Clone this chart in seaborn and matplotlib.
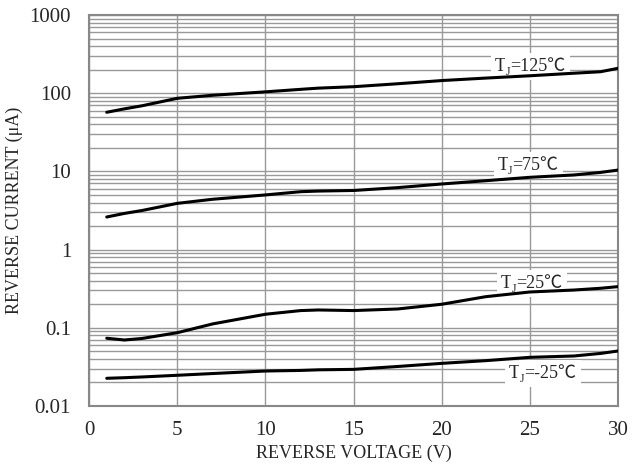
import numpy as np
import pandas as pd
import matplotlib
matplotlib.use('Agg')
import matplotlib.pyplot as plt
import matplotlib.transforms as mtransforms
import seaborn as sns

# Curvas de corriente inversa
voltaje = [1, 2, 3, 5, 7, 10, 12, 13, 15, 17.5, 20, 22.5, 25, 27.5, 29, 30]
i_125 = [57, 63, 69, 86, 94, 104, 112, 116, 121, 132, 145, 156, 167, 180, 188, 208]
i_75 = [2.61, 2.9, 3.16, 3.9, 4.4, 5.0, 5.5, 5.6, 5.7, 6.2, 6.9, 7.6, 8.4, 9.0, 9.7, 10.4]
i_25 = [0.0735, 0.0698, 0.073, 0.0865, 0.112, 0.149, 0.166, 0.169, 0.166, 0.174, 0.200,
        0.250, 0.287, 0.304, 0.320, 0.336]
i_m25 = [0.0226, 0.023, 0.0235, 0.0247, 0.026, 0.028, 0.0285, 0.029, 0.0294, 0.032, 0.0351,
         0.038, 0.0419, 0.0436, 0.047, 0.0505]

# Etiquetas: T con subindice J y el resto del texto
etiquetas = ['=125℃', '=75℃', '=25℃', '=-25℃']
etiqueta_x = [23.0, 23.15, 23.35, 23.8]
etiqueta_y = [192, 10.4, 0.323, 0.0228]

sns.set_style('white')
plt.rcParams['font.family'] = ['Liberation Serif', 'Noto Sans CJK JP', 'DejaVu Sans']

fig = plt.figure(figsize=(6.32, 4.68), dpi=100)
ax = fig.add_axes([0.141, 0.1325, 0.837, 0.8355])

for serie in [i_125, i_75, i_25, i_m25]:
    df = pd.DataFrame({'V': voltaje, 'I': serie})
    sns.lineplot(data=df, x='V', y='I', ax=ax, color='black', linewidth=2.2, zorder=6)

ax.set_yscale('log')
ax.set_xlim(0, 30)
ax.set_ylim(0.01, 1000)
ax.set_xticks([0, 5, 10, 15, 20, 25, 30])
ax.set_yticks([0.01, 0.1, 1, 10, 100, 1000])
ax.set_yticklabels(['0.01', '0.1', '1', '10', '100', '1000'])
ax.yaxis.set_minor_locator(matplotlib.ticker.LogLocator(base=10, subs=np.arange(2, 10)))
ax.yaxis.set_minor_formatter(matplotlib.ticker.NullFormatter())
ax.grid(True, which='both', axis='y', color='#999999', linewidth=1.0)
ax.grid(True, which='major', axis='x', color='#999999', linewidth=1.0)
ax.tick_params(axis='both', which='both', length=0, labelsize=15)
ax.tick_params(axis='x', pad=11)
ax.tick_params(axis='y', pad=13)
for s in ax.spines.values():
    s.set_color('#888888')
    s.set_linewidth(1.5)

fs = 13
for t, x, y in zip(etiquetas, etiqueta_x, etiqueta_y):
    caja = dict(facecolor='white', edgecolor='none', pad=2.5)
    ax.text(x, y, 'T', ha='left', va='baseline', fontsize=fs, bbox=caja, zorder=4)
    tr_j = mtransforms.offset_copy(ax.transData, fig=fig, x=0.6 * fs, y=-3, units='points')
    ax.text(x, y, 'J', ha='left', va='baseline', fontsize=8.5, transform=tr_j, zorder=5)
    tr_r = mtransforms.offset_copy(ax.transData, fig=fig, x=0.6 * fs + 3.2, y=0, units='points')
    ax.text(x, y, t, ha='left', va='baseline', fontsize=fs, transform=tr_r,
            bbox=dict(facecolor='white', edgecolor='none', pad=3.5), zorder=4)

ax.set_xlabel('REVERSE VOLTAGE (V)', fontsize=13, labelpad=3)
ax.set_ylabel('REVERSE CURRENT (μA)', fontsize=13, labelpad=5)

fig.savefig('out.png', dpi=100)
